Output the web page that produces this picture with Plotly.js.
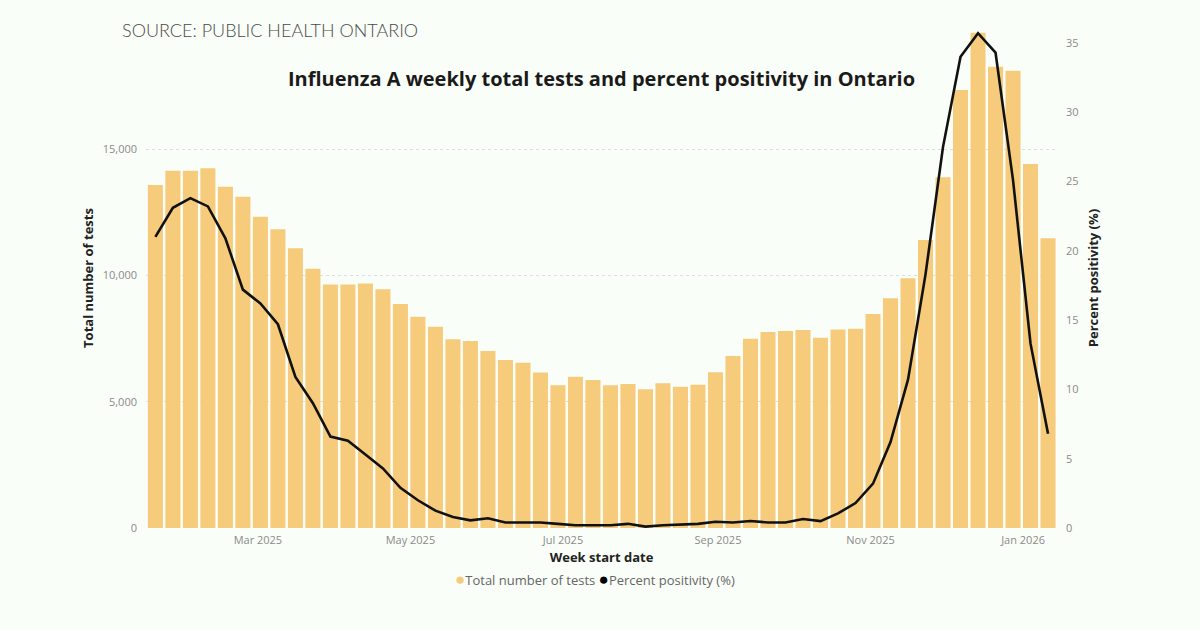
<!DOCTYPE html>
<html>
<head>
<meta charset="utf-8">
<script src="https://cdn.plot.ly/plotly-3.0.1.min.js"></script>
<style>
  html, body { margin: 0; padding: 0; background: #FAFEF8; }
  #chart { width: 1200px; height: 630px; }
</style>
</head>
<body>
<div id="chart"></div>
<script>
// Week start dates (Sunday) for each reporting week
const weekStart = [
  '2025-01-19','2025-01-26','2025-02-02','2025-02-09','2025-02-16','2025-02-23',
  '2025-03-02','2025-03-09','2025-03-16','2025-03-23','2025-03-30',
  '2025-04-06','2025-04-13','2025-04-20','2025-04-27',
  '2025-05-04','2025-05-11','2025-05-18','2025-05-25',
  '2025-06-01','2025-06-08','2025-06-15','2025-06-22','2025-06-29',
  '2025-07-06','2025-07-13','2025-07-20','2025-07-27',
  '2025-08-03','2025-08-10','2025-08-17','2025-08-24','2025-08-31',
  '2025-09-07','2025-09-14','2025-09-21','2025-09-28',
  '2025-10-05','2025-10-12','2025-10-19','2025-10-26',
  '2025-11-02','2025-11-09','2025-11-16','2025-11-23','2025-11-30',
  '2025-12-07','2025-12-14','2025-12-21','2025-12-28',
  '2026-01-04','2026-01-11'
];

// Total number of Influenza A tests per week
const totalTests = [
  13580, 14140, 14140, 14240, 13510, 13110, 12320, 11820, 11070, 10260,
  9640, 9640, 9680, 9450, 8870, 8360, 7970, 7470, 7400, 7010,
  6650, 6540, 6150, 5650, 5990, 5860, 5650, 5700, 5490, 5730,
  5590, 5670, 6160, 6810, 7490, 7760, 7800, 7840, 7530, 7860,
  7890, 8470, 9090, 9880, 11400, 13880, 17340, 19600, 18260, 18100,
  14410, 11470
];

// Percent of tests positive for Influenza A
const percentPositivity = [
  21.0, 23.1, 23.8, 23.2, 20.9, 17.2, 16.2, 14.7, 10.9, 9.0,
  6.6, 6.3, 5.3, 4.3, 2.9, 2.0, 1.25, 0.8, 0.55, 0.7,
  0.4, 0.4, 0.4, 0.3, 0.2, 0.2, 0.2, 0.3, 0.1, 0.2,
  0.25, 0.3, 0.45, 0.4, 0.5, 0.4, 0.4, 0.65, 0.5, 1.05,
  1.8, 3.2, 6.2, 10.7, 18.3, 27.5, 34.0, 35.7, 34.3, 25.1,
  13.3, 6.8
];

// Month labels on the date axis
const monthTicks = ['2025-03-01','2025-05-01','2025-07-01','2025-09-01','2025-11-01','2026-01-01'];
const monthLabels = ['Mar 2025','May 2025','Jul 2025','Sep 2025','Nov 2025','Jan 2026'];
const leftTicks = [0, 5000, 10000, 15000];
const rightTicks = [0, 5, 10, 15, 20, 25, 30, 35];
const seriesNames = ['Total number of tests', 'Percent positivity (%)'];

const BAR_COLOR = '#F6CB7C';
const LINE_COLOR = '#111111';
const BG = '#FAFEF8';
const TICK_FONT = { family: 'Open Sans, sans-serif', size: 11, color: '#8a8a8a' };
const AXIS_TITLE_FONT = { family: 'Open Sans, sans-serif', size: 13, color: '#222', weight: 700 };

const traces = [
  {
    type: 'bar',
    name: seriesNames[0],
    x: weekStart,
    y: totalTests,
    marker: { color: BAR_COLOR },
    yaxis: 'y',
    showlegend: false,
    hoverinfo: 'skip'
  },
  {
    type: 'scatter',
    mode: 'lines',
    name: seriesNames[1],
    x: weekStart,
    y: percentPositivity,
    line: { color: LINE_COLOR, width: 2.6 },
    yaxis: 'y2',
    showlegend: false,
    hoverinfo: 'skip'
  }
];

const plotTop = 28, plotBottom = 102;
const plotHeight = 630 - plotTop - plotBottom;

// compact key: round swatch directly followed by the series name
const dot = (color) => '<span style="color:' + color + ';font-size:17px">●</span>';
const legendText = dot(BAR_COLOR) + seriesNames[0] + ' ' + dot('#000') + seriesNames[1];

const layout = {
  width: 1200,
  height: 630,
  paper_bgcolor: BG,
  plot_bgcolor: BG,
  margin: { l: 146, r: 143, t: plotTop, b: plotBottom, autoexpand: false },
  bargap: 0.14,
  showlegend: false,
  title: {
    text: 'Influenza A weekly total tests and percent positivity in Ontario',
    font: { family: 'Open Sans, sans-serif', size: 20, color: '#1a1a1a', weight: 700 },
    xref: 'paper', x: 0.5, xanchor: 'center',
    yref: 'container', y: 1 - 79 / 630, yanchor: 'middle'
  },
  xaxis: {
    type: 'date',
    range: ['2025-01-15 06:00', '2026-01-14 14:00'],
    tickvals: monthTicks,
    ticktext: monthLabels,
    tickfont: TICK_FONT,
    ticklabelstandoff: 4,
    showgrid: false,
    zeroline: false,
    showline: false,
    ticks: '',
    title: { text: 'Week start date', font: AXIS_TITLE_FONT, standoff: 6 }
  },
  yaxis: {
    range: [0, plotHeight / 126.33 * 5000],
    tickvals: leftTicks,
    tickformat: ',d',
    tickfont: TICK_FONT,
    ticklabelstandoff: 8,
    showgrid: true,
    gridcolor: '#dedede',
    griddash: 'dot',
    gridwidth: 1,
    zeroline: false,
    showline: false,
    ticks: '',
    title: { text: 'Total number of tests', font: AXIS_TITLE_FONT, standoff: 6 }
  },
  yaxis2: {
    overlaying: 'y',
    side: 'right',
    range: [0, plotHeight / 69.3 * 5],
    tickvals: rightTicks,
    tickfont: TICK_FONT,
    ticklabelstandoff: 8,
    showgrid: false,
    zeroline: false,
    showline: false,
    ticks: '',
    title: { text: 'Percent positivity (%)', font: AXIS_TITLE_FONT, standoff: 11 }
  },
  annotations: [
    {
      text: 'SOURCE: PUBLIC HEALTH ONTARIO',
      xref: 'paper', yref: 'paper',
      x: (120 - 146) / 911, xanchor: 'left',
      y: (528 - 30) / plotHeight, yanchor: 'middle',
      showarrow: false,
      font: { family: 'Lato, sans-serif', size: 18, color: '#4a4a4a', weight: 300 }
    },
    {
      text: legendText,
      xref: 'paper', yref: 'paper',
      x: (595 - 146) / 911, xanchor: 'center',
      y: (528 - 578) / plotHeight, yanchor: 'middle',
      showarrow: false,
      font: { family: 'Open Sans, sans-serif', size: 13, color: '#666' }
    }
  ]
};

Plotly.newPlot('chart', traces, layout, { staticPlot: true, displayModeBar: false });
</script>
</body>
</html>
